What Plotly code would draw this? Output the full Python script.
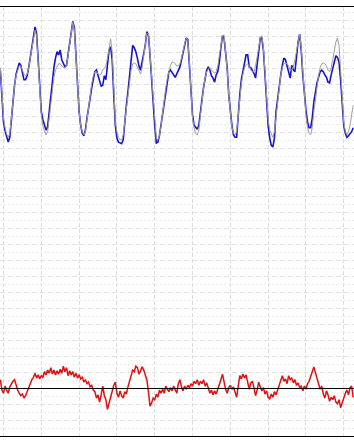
import plotly.graph_objects as go

# hours from start of first day (gridlines every 24 h)
hours = list(range(-2, 223))

actual = [
    39.8, 36.1,
    # day 0
    33.3, 32.2, 31.3, 30.8, 31.4, 33.6, 36.1, 37.9, 39.3, 40.1, 40.7, 40.4,
    39.6, 38.6, 38.6, 39.1, 40.1, 41.4, 42.3, 44.2, 45.2, 44.4, 41.1, 37.1,
    # day 1
    34.6, 33.6, 32.8, 32.3, 32.7, 34.6, 36.3, 38.3, 40.1, 41.3, 42.1, 41.7,
    42.3, 41.1, 40.6, 40.2, 40.4, 41.7, 42.9, 44.6, 45.9, 45.1, 41.7, 37.6,
    # day 2
    34.6, 32.9, 31.9, 31.6, 32.3, 33.8, 35.4, 36.3, 37.6, 38.8, 39.6, 39.8,
    39.2, 38.6, 37.8, 37.9, 39.1, 38.6, 40.8, 42.3, 42.7, 41.1, 36.7, 32.9,
    # day 3
    31.3, 30.8, 30.7, 30.6, 31.1, 33.6, 35.4, 37.1, 38.8, 40.8, 42.9, 42.6,
    42.1, 41.3, 40.3, 39.8, 40.8, 42.1, 42.9, 44.6, 44.2, 41.7, 38.6, 35.4,
    # day 4
    32.9, 30.7, 30.8, 31.6, 32.9, 34.6, 36.1, 37.1, 38.3, 39.6, 39.8, 39.4,
    39.2, 38.9, 39.4, 39.8, 40.2, 41.1, 42.1, 42.9, 43.8, 43.6, 40.4, 36.7,
    # day 5
    34.2, 32.9, 32.6, 32.4, 32.9, 34.8, 36.1, 37.6, 38.9, 39.8, 40.2, 39.8,
    39.1, 38.8, 38.3, 39.2, 39.6, 40.8, 42.6, 44.1, 43.8, 42.3, 40.1, 36.7,
    # day 6
    34.6, 32.9, 31.7, 31.4, 31.4, 34.8, 36.7, 38.6, 39.6, 40.4, 41.7, 41.7,
    40.2, 40.1, 39.8, 39.4, 38.8, 40.4, 42.6, 43.8, 43.8, 42.3, 39.2, 35.4,
    # day 7
    32.9, 31.3, 30.4, 30.2, 31.3, 34.6, 36.3, 37.7, 39.2, 40.4, 41.3, 41.1,
    40.4, 39.6, 38.8, 40.4, 39.8, 39.6, 41.7, 43.3, 44.3, 42.3, 39.2, 36.7,
    # day 8
    34.8, 33.3, 32.6, 32.6, 33.8, 35.8, 37.1, 38.2, 38.9, 39.6, 39.8, 39.6,
    39.2, 38.9, 38.3, 38.2, 39.2, 40.1, 41.1, 41.6, 41.4, 40.8, 38.6, 36.1,
    # day 9
    32.9, 31.9, 31.4, 31.6, 31.8, 32.1, 32.6,
]

forecast = [
    40.1, 36.3,
    33.8, 32.6, 31.8, 31.4, 31.9, 33.8, 36.1, 37.8, 39.1, 39.8, 40.3, 40.3,
    39.8, 39.3, 39.1, 39.3, 40.1, 41.3, 42.7, 44.1, 44.8, 44.1, 41.1, 37.1,
    34.2, 32.8, 32.1, 31.7, 32.1, 33.8, 35.8, 37.6, 38.9, 39.8, 40.3, 40.6,
    40.6, 40.3, 40.1, 40.1, 40.4, 41.6, 42.9, 44.6, 45.8, 44.8, 41.6, 37.6,
    34.6, 32.9, 32.1, 31.7, 32.1, 33.6, 35.3, 36.7, 38.1, 39.1, 39.6, 39.6,
    39.3, 39.2, 39.3, 39.8, 40.1, 40.3, 41.3, 42.8, 43.7, 42.1, 37.6, 33.3,
    32.1, 31.4, 31.1, 31.1, 31.7, 33.3, 35.3, 37.1, 38.6, 39.8, 40.6, 40.7,
    40.6, 40.1, 39.6, 39.3, 40.1, 41.6, 42.8, 44.4, 44.4, 41.7, 38.6, 35.4,
    32.9, 31.3, 31.1, 31.6, 32.8, 34.6, 36.1, 37.6, 38.8, 39.8, 40.4, 40.8,
    40.8, 40.6, 40.3, 40.3, 40.6, 41.3, 42.3, 43.1, 43.8, 43.6, 40.8, 37.1,
    33.8, 32.6, 31.9, 31.7, 32.3, 34.1, 36.1, 37.6, 38.8, 39.6, 39.9, 40.1,
    39.8, 39.6, 39.4, 39.6, 40.3, 41.6, 42.9, 44.1, 44.2, 42.3, 39.8, 36.6,
    34.2, 32.7, 31.9, 31.7, 32.1, 34.2, 36.3, 38.1, 39.3, 40.1, 40.4, 40.6,
    40.3, 39.8, 39.6, 39.6, 40.3, 41.6, 42.8, 43.8, 44.1, 42.6, 39.6, 35.8,
    33.6, 32.3, 31.7, 31.4, 32.1, 33.8, 36.1, 37.8, 39.2, 40.1, 40.6, 40.7,
    40.6, 40.3, 39.8, 39.8, 40.3, 41.1, 42.1, 43.3, 44.3, 42.6, 39.6, 36.3,
    34.2, 32.6, 31.9, 31.7, 32.6, 34.6, 36.3, 37.8, 39.1, 40.1, 40.6, 40.7,
    40.6, 40.3, 39.8, 39.6, 40.1, 41.1, 42.3, 43.3, 43.8, 42.9, 39.8, 36.1,
    33.3, 32.1, 31.7, 32.1, 32.9, 34.2, 35.4,
]

residual = [
    1.1, -0.2, -0.6, 0.3, -0.2, -0.6, 0.2, 0.6, 0.9, 1.1, 0.4, -0.2,
    -0.6, -0.9, -0.7, -1.2, -0.9, -0.3, 0.1, 0.6, 1.1, 1.4, 1.9, 1.3,
    1.7, 1.2, 1.6, 1.4, 2.1, 1.7, 2.3, 1.9, 2.6, 1.8, 2.3, 1.7,
    2.2, 1.8, 2.4, 1.9, 2.8, 2.1, 2.6, 1.6, 2.2, 1.7, 2.1, 1.4,
    1.9, 1.3, 1.7, 1.2, 1.4, 0.8, 1.1, 0.6, 0.8, 0.2, 0.4, -0.2,
    -0.4, -1.2, -0.8, -1.7, -0.8, 0.3, -0.9, -1.4, -2.6, -1.9, -0.9, -0.4,
    0.4, 0.8, -0.6, -1.1, -0.3, -0.9, -1.2, -0.4, -0.7, 0.2, 0.9, 1.6,
    2.3, 2.1, 2.8, 2.6, 1.8, 2.2, 2.7, 2.3, 1.6, 1.1, -0.4, -2.2,
    -1.8, -1.2, -1.4, -0.7, -1.1, -0.2, -0.6, -0.1, -0.6, 0.3, -0.1, -0.4,
    0.1, -0.3, 0.3, -0.2, -0.6, 0.6, 1.1, 0.2, -0.3, 0.3, -0.1, 0.4,
    0.1, 0.6, 0.3, 0.9, 0.6, 1.1, 0.4, 0.9, 0.6, 1.1, 0.3, 0.7,
    0.1, -0.6, -0.2, -0.8, -0.3, -0.7, -0.1, 0.4, 1.1, 1.8, 0.6, -0.1,
    -0.6, 0.1, 0.4, -0.1, 0.2, -0.6, -1.1, 0.3, 1.6, 1.2, 1.8, 1.3,
    1.7, 0.8, -0.1, 0.7, 0.9, 0.1, -0.9, -0.2, 0.8, 0.2, -0.3, 0.1,
    -0.7, -0.3, -1.1, -1.3, -0.7, -1.1, -0.4, -0.8, -0.2, 0.4, 0.9, 1.6,
    0.9, 1.2, 0.6, 1.6, 1.1, 1.3, 0.7, 1.1, 0.4, 0.7, 0.1, 0.3,
    -0.3, 0.3, -0.1, 0.6, 0.9, 1.4, 2.1, 2.7, 1.8, 1.3, 0.6, -0.1,
    0.3, -0.7, -1.2, -0.3, -0.8, -1.6, -1.1, -1.4, -0.9, -1.7, -1.9, -1.4,
    -2.4, -1.7, -1.1, -0.6, -0.2, -0.8, 0.1, 0.3, -1.1,
]

fig = go.Figure()
fig.add_trace(go.Scatter(x=hours, y=actual, mode="lines",
                         line=dict(color="#1414c8", width=1.6), showlegend=False))
fig.add_trace(go.Scatter(x=hours, y=forecast, mode="lines",
                         line=dict(color="#a39b95", width=1.0), showlegend=False))
fig.add_trace(go.Scatter(x=hours, y=residual, mode="lines",
                         line=dict(color="#e01010", width=1.5), showlegend=False))
fig.add_hline(y=0, line_color="black", line_width=1.2)

fig.update_xaxes(range=[-2.22, 222.5], tick0=0, dtick=24, showticklabels=False,
                 ticks="", showgrid=True, gridcolor="#dddddd", griddash="4px,2px",
                 gridwidth=1, zeroline=False, showline=True, mirror=True,
                 linecolor="black", linewidth=1)
fig.update_yaxes(range=[-5.94, 47.69], tick0=0, dtick=2, showticklabels=False,
                 ticks="", showgrid=True, gridcolor="#e2e2e2", griddash="5px,3px",
                 gridwidth=1, zeroline=False, showline=False,
                 minor=dict(dtick=1, showgrid=True, gridcolor="#ebebeb",
                            griddash="2px,2px", gridwidth=1))
fig.update_layout(width=354, height=442, autosize=False,
                  margin=dict(l=0, r=0, t=7, b=6),
                  plot_bgcolor="white", paper_bgcolor="white")
fig.write_html("out.html", config={"displayModeBar": False})
